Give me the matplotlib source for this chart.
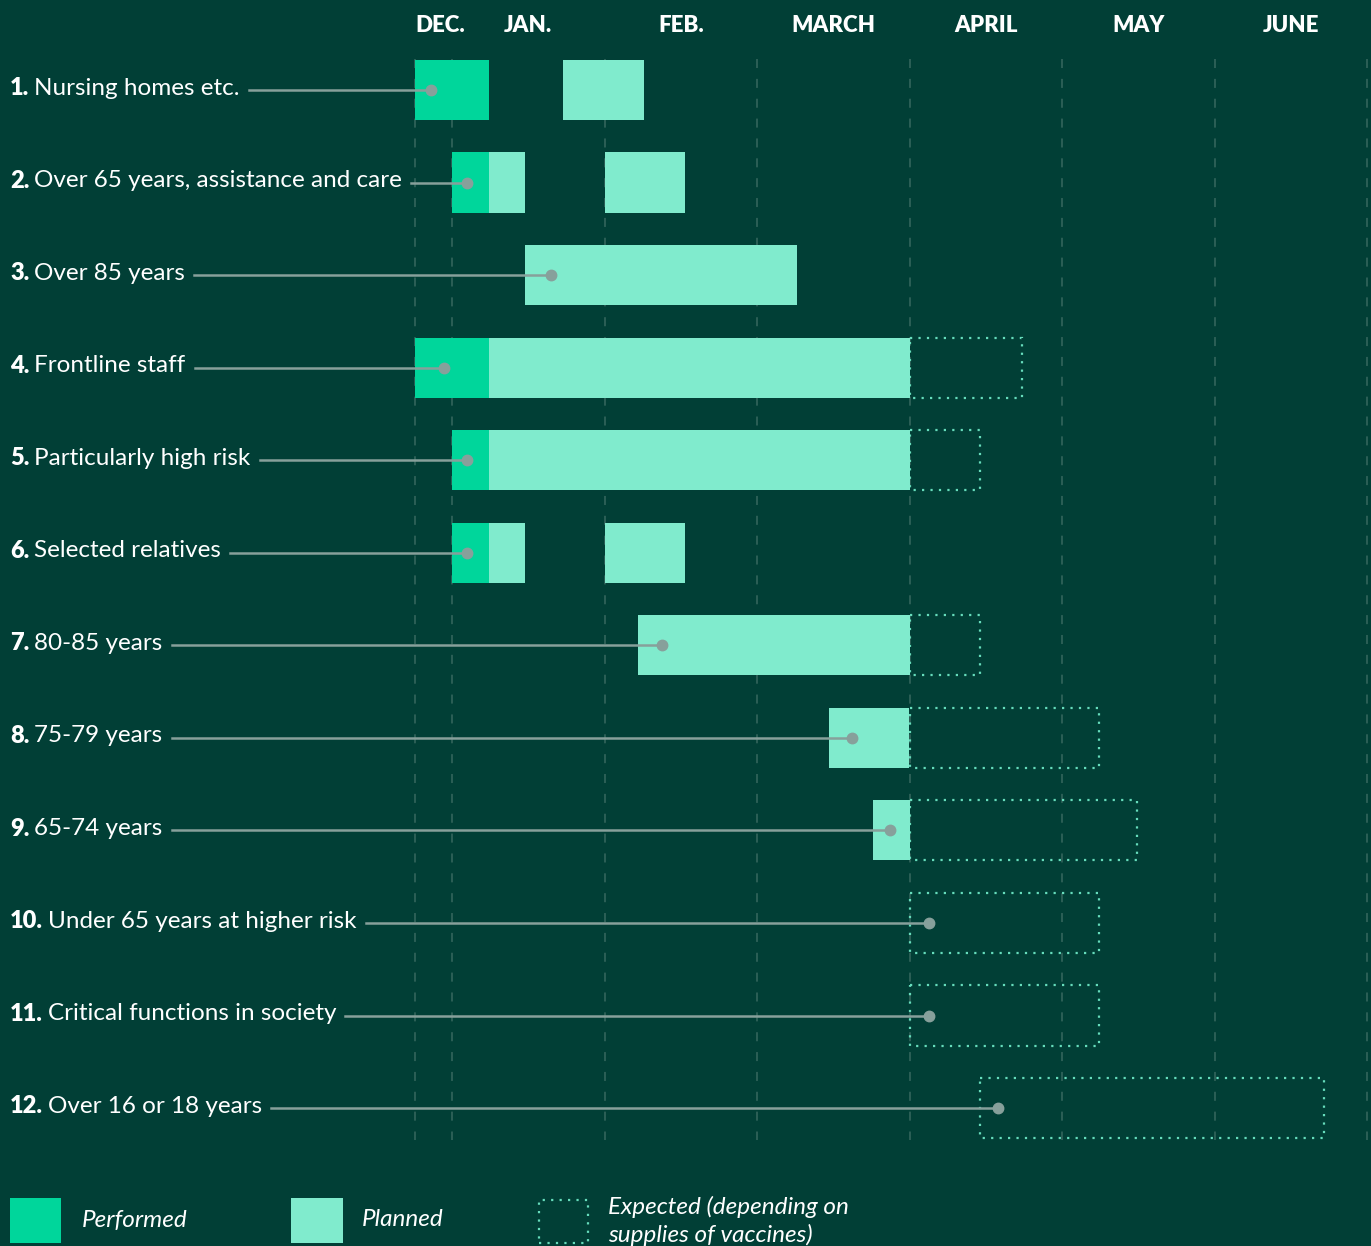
import matplotlib
matplotlib.use("Agg")
import matplotlib.pyplot as plt
import matplotlib.transforms as mtransforms
from matplotlib.patches import Rectangle

plt.rcParams['font.family'] = ['Lato', 'DejaVu Sans']

# data (x in months, 0 = 1 January)
months = ["DEC.", "JAN.", "FEB.", "MARCH", "APRIL", "MAY", "JUNE"]
month_pos = [-0.08, 0.5, 1.5, 2.5, 3.5, 4.5, 5.5]
grid_pos = [-0.24, 0, 1, 2, 3, 4, 5, 6]

nums = ["1.", "2.", "3.", "4.", "5.", "6.", "7.", "8.", "9.", "10.", "11.", "12."]
groups = ["Nursing homes etc.", "Over 65 years, assistance and care", "Over 85 years",
          "Frontline staff", "Particularly high risk", "Selected relatives",
          "80-85 years", "75-79 years", "65-74 years", "Under 65 years at higher risk",
          "Critical functions in society", "Over 16 or 18 years"]
dots = [-0.14, 0.10, 0.65, -0.05, 0.10, 0.10, 1.38, 2.62, 2.87, 3.13, 3.13, 3.58]

performed = [(0, -0.24, 0.24), (1, 0.0, 0.24), (3, -0.24, 0.24), (4, 0.0, 0.24), (5, 0.0, 0.24)]
planned = [(0, 0.73, 1.26), (1, 0.24, 0.48), (1, 1.0, 1.53), (2, 0.48, 2.26),
           (3, 0.24, 3.0), (4, 0.24, 3.0), (5, 0.24, 0.48), (5, 1.0, 1.53),
           (6, 1.22, 3.0), (7, 2.47, 3.0), (8, 2.76, 3.0)]
expected = [(3, 3.0, 3.74), (4, 3.0, 3.46), (6, 3.0, 3.46), (7, 3.0, 4.24),
            (8, 3.0, 4.49), (9, 3.0, 4.24), (10, 3.0, 4.24), (11, 3.46, 5.72)]

BG = "#013f36"
C_PERF = "#00d69b"
C_PLAN = "#80ebcd"
C_EXP = "#66dcbc"
C_GRID = "#2f6259"
C_LEAD = "#87a09b"

W, H = 1371, 1246
fig = plt.figure(figsize=(W / 100, H / 100), dpi=100, facecolor=BG)
ax = fig.add_axes([0, 0, 1, 1])
ax.set_facecolor(BG)
x0, mw = 452, 152.5
y0, rh = 90, 92.55
ax.set_xlim((0 - x0) / mw, (W - x0) / mw)
ax.set_ylim((H - y0) / rh, (0 - y0) / rh)
ax.axis("off")

bh = 0.65
for g in grid_pos:
    ax.plot([g, g], [-0.33, 11.35], color=C_GRID, lw=1.3, ls=(0, (5, 6)), zorder=1)

for r, a, b in expected:
    ax.add_patch(Rectangle((a, r - bh / 2), b - a, bh, fill=False, edgecolor=C_EXP,
                           lw=1.6, ls=(0, (1, 2.8)), zorder=2))
for r, a, b in planned:
    ax.add_patch(Rectangle((a, r - bh / 2), b - a, bh, facecolor=C_PLAN, lw=0, zorder=3))
for r, a, b in performed:
    ax.add_patch(Rectangle((a, r - bh / 2), b - a, bh, facecolor=C_PERF, lw=0, zorder=3))

for m, p in zip(months, month_pos):
    ax.text(p, -0.70, m, color="white", fontsize=16, fontweight="heavy",
            ha="center", va="center")

trans = mtransforms.blended_transform_factory(ax.transAxes, ax.transData)
pix = mtransforms.blended_transform_factory(mtransforms.IdentityTransform(), ax.transData)
fig.canvas.draw()
rend = fig.canvas.get_renderer()
inv = ax.transData.inverted()
for i in range(len(groups)):
    t1 = ax.text(10 / W, i - 0.02, nums[i], color="white", fontsize=17, fontweight="heavy",
                 ha="left", va="center", transform=trans)
    bb = t1.get_window_extent(rend)
    t2 = ax.text(bb.x1 + 5, i - 0.02, groups[i], color="white", fontsize=17.5,
                 ha="left", va="center", transform=pix)
    bb2 = t2.get_window_extent(rend)
    xs = inv.transform((bb2.x1 + 9, 0))[0]
    ax.plot([xs, dots[i]], [i, i], color=C_LEAD, lw=1.8, zorder=4)
    ax.plot(dots[i], i, "o", color=C_LEAD, ms=7.5, zorder=5)

# legend
def fx(p):
    return p / W

def fy(p):
    return 1 - p / H

fig.patches.append(Rectangle((fx(10), fy(1243)), fx(51), 45 / H, transform=fig.transFigure,
                             facecolor=C_PERF, lw=0))
fig.patches.append(Rectangle((fx(291), fy(1243)), fx(52), 45 / H, transform=fig.transFigure,
                             facecolor=C_PLAN, lw=0))
fig.patches.append(Rectangle((fx(539), fy(1243)), fx(49), 43 / H, transform=fig.transFigure,
                             fill=False, edgecolor=C_EXP, lw=1.6, ls=(0, (1, 2.8))))
fig.text(fx(82), fy(1220), "Performed", color="white", fontsize=17.5, style="italic", va="center")
fig.text(fx(362), fy(1220), "Planned", color="white", fontsize=17.5, style="italic", va="center")
fig.text(fx(608), fy(1207), "Expected (depending on", color="white", fontsize=17.5,
         style="italic", va="center")
fig.text(fx(608), fy(1235), "supplies of vaccines)", color="white", fontsize=17.5,
         style="italic", va="center")

fig.savefig("out.png", dpi=100, facecolor=BG)
